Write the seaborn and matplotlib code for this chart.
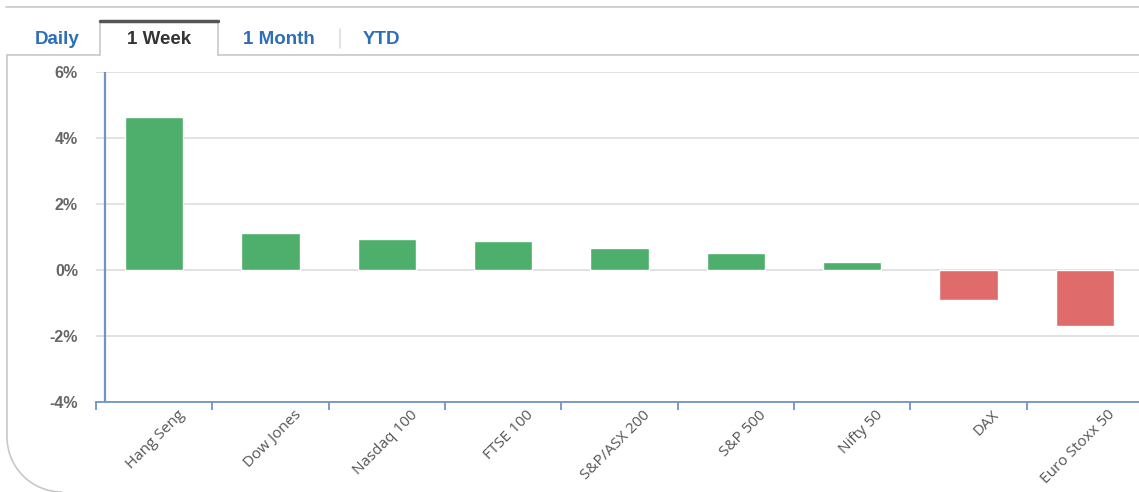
import matplotlib
matplotlib.use("Agg")
import matplotlib.pyplot as plt
import seaborn as sns
import numpy as np
from matplotlib.lines import Line2D
from matplotlib.patches import Arc
from matplotlib.transforms import ScaledTranslation

indices = ["Hang Seng", "Dow Jones", "Nasdaq 100", "FTSE 100", "S&P/ASX 200",
           "S&P 500", "Nifty 50", "DAX", "Euro Stoxx 50"]
change_pct = [4.63, 1.11, 0.93, 0.87, 0.66, 0.51, 0.23, -0.92, -1.71]
y_ticks = [-4, -2, 0, 2, 4, 6]
tabs = ["Daily", "1 Week", "1 Month", "YTD"]

W, H = 1139, 492
green, red = "#4daf6b", "#e06b6b"
axis_blue = "#7094c8"

sns.set_theme(style="white")
plt.rcParams["font.family"] = ["Liberation Sans", "DejaVu Sans"]

fig = plt.figure(figsize=(W / 100, H / 100), dpi=100)


def fx(px):
    return px / W


def fy(py):
    return 1 - py / H


# plot area in pixels: left 96, right 1143, top 72, bottom 402
ax = fig.add_axes([fx(96), fy(402), fx(1143 - 96), (402 - 72) / H])
colors = [green if v >= 0 else red for v in change_pct]
sns.barplot(x=indices, y=change_pct, hue=indices, palette=colors,
            legend=False, width=0.5, saturation=1, ax=ax)
ax.set_xlim(-0.5, len(indices) - 0.5)
ax.set_ylim(-4, 6)
ax.set_yticks(y_ticks)
ax.set_yticklabels([f"{t}%" for t in y_ticks], color="#666666",
                   fontsize=11.5, fontweight="bold")
ax.yaxis.grid(True, color="#dddddd", linewidth=1.2)
ax.set_axisbelow(True)
for s in ["top", "right", "left"]:
    ax.spines[s].set_visible(False)
ax.spines["bottom"].set_color(axis_blue)
ax.spines["bottom"].set_linewidth(1.3)
ax.axvline(-0.5 + 9 / 116.3, color=axis_blue, linewidth=1.6, zorder=3)
ax.tick_params(axis="y", length=0, pad=13)
ax.set_xticks(np.arange(len(indices) + 1) - 0.5, minor=True)
ax.tick_params(axis="x", which="minor", length=6, width=1.3,
               color=axis_blue, direction="out", bottom=True)
ax.tick_params(axis="x", which="major", length=0, pad=4)
ax.set_xticks(range(len(indices)))
ax.set_xticklabels(indices, rotation=45, ha="right", rotation_mode="anchor",
                   fontsize=11, color="#555555", family=["Open Sans", "DejaVu Sans"])
for lab in ax.get_xticklabels():
    lab.set_transform(lab.get_transform() + ScaledTranslation(23 / 100, 0, fig.dpi_scale_trans))
ax.set_xlabel("")
ax.set_ylabel("")

# panel border and tab bar
line_kw = dict(transform=fig.transFigure, color="#c8c8c8", linewidth=1.2)
fig.add_artist(Line2D([fx(6), fx(W)], [fy(7), fy(7)], **line_kw))
fig.add_artist(Line2D([fx(7), fx(7)], [fy(55), fy(437)], **line_kw))
fig.add_artist(Arc((fx(62), fy(437)), 110 / W, 110 / H, theta1=180, theta2=270,
                   transform=fig.transFigure, color="#c8c8c8", linewidth=1.2))
fig.add_artist(Line2D([fx(7), fx(100)], [fy(55), fy(55)], **line_kw))
fig.add_artist(Line2D([fx(218), fx(W)], [fy(55), fy(55)], **line_kw))
fig.add_artist(Line2D([fx(100), fx(100)], [fy(21), fy(55)], **line_kw))
fig.add_artist(Line2D([fx(218), fx(218)], [fy(21), fy(55)], **line_kw))
fig.add_artist(Line2D([fx(100), fx(218)], [fy(21), fy(21)],
                      transform=fig.transFigure, color="#555555", linewidth=2.5))
fig.add_artist(Line2D([fx(340), fx(340)], [fy(29), fy(48)],
                      transform=fig.transFigure, color="#dddddd", linewidth=1.2))

tab_x = [57, 159, 279, 381]
for name, x in zip(tabs, tab_x):
    col = "#333333" if name == "1 Week" else "#2f6db5"
    fig.text(fx(x), fy(39), name, ha="center", va="center", fontsize=13.5,
             fontweight="bold", color=col)

fig.savefig("out.png", dpi=100)
